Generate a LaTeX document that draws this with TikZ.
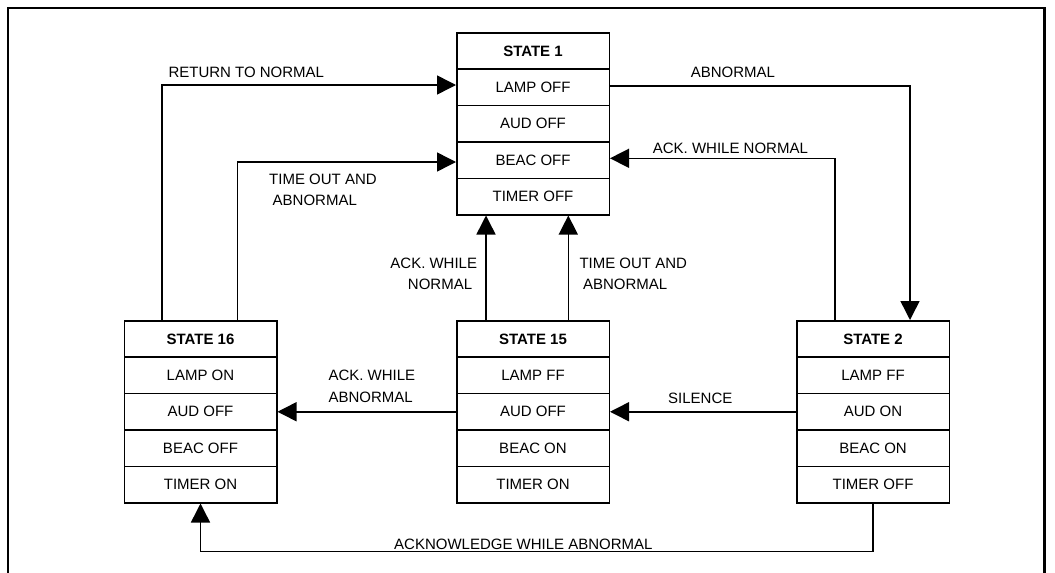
\documentclass[tikz,border=0pt]{standalone}
\usepackage{fontspec}
\setmainfont{Liberation Sans}
\usetikzlibrary{arrows.meta}
\tikzset{
  row/.style={draw, line width=1.5pt, minimum width=152.5pt, minimum height=36.4pt,
    inner sep=0pt, anchor=north west, font=\fontsize{15}{18}\selectfont},
  titlerow/.style={row, font=\fontsize{15}{18}\selectfont\bfseries},
  conn/.style={line width=1.5pt, -{Triangle[width=19pt,length=19pt]}},
  lbl/.style={font=\fontsize{15}{21.5}\selectfont, inner sep=0pt},
  frameline/.style={line width=2.5pt}
}
\newcommand\mystatebox[8]{%
  \node[titlerow] (#1-0) at (#2,#3) {#4};
  \node[row] (#1-1) at (#2,#3+36.4) {#5};
  \node[row] (#1-2) at (#2,#3+72.8) {#6};
  \node[row] (#1-3) at (#2,#3+109.2) {#7};
  \node[row] (#1-4) at (#2,#3+145.6) {#8};
}
\begin{document}
\begin{tikzpicture}[x=1pt,y=-1pt]
\useasboundingbox (0,0) rectangle (1055,573);
% frame
\draw[frameline] (7.8,573) -- (7.8,8) -- (1044.5,8) -- (1044.5,573);

% states
\mystatebox{s1}{456}{32}{STATE 1}{LAMP OFF}{AUD OFF}{BEAC OFF}{TIMER OFF}
\mystatebox{s16}{123.5}{320}{STATE 16}{LAMP ON}{AUD OFF}{BEAC OFF}{TIMER ON}
\mystatebox{s15}{456}{320}{STATE 15}{LAMP FF}{AUD OFF}{BEAC ON}{TIMER ON}
\mystatebox{s2}{796}{320}{STATE 2}{LAMP FF}{AUD ON}{BEAC ON}{TIMER OFF}

% corner coordinates
\coordinate (rtn) at (161.8,85);
\coordinate (tol) at (237.7,162);
\coordinate (abn) at (910,86);
\coordinate (awn) at (835,158.3);
\coordinate (u1) at (486,0);
\coordinate (u2) at (568.3,0);
\coordinate (bot) at (0,551.7);

% connectors
\draw[conn] (s16-0.north -| rtn) -- (rtn) -- (rtn -| s1-1.west);
\draw[conn] (s16-0.north -| tol) -- (tol) -- (tol -| s1-3.west);
\draw[conn] (abn -| s1-1.east) -- (abn) -- (abn |- s2-0.north);
\draw[conn] (s2-0.north -| awn) -- (awn) -- (awn -| s1-3.east);
\draw[conn] (s15-0.north -| u1) -- (s1-4.south -| u1);
\draw[conn] (s15-0.north -| u2) -- (s1-4.south -| u2);
\draw[conn] (s2-2.west) -- (s15-2.east);
\draw[conn] (s15-2.west) -- (s16-2.east);
\draw[conn] (s2-4.south) -- (s2-4.south |- bot) -- (s16-4.south |- bot) -- (s16-4.south);

% labels
\node[lbl, anchor=west] (lrtn) at (168.3,72) {RETURN TO NORMAL};
\node[lbl, anchor=west] (labn) at (690.7,72.5) {ABNORMAL};
\node[lbl, anchor=west] (lawn) at (652.7,148.3) {ACK. WHILE NORMAL};
\node[lbl, anchor=west, align=left] (ltol) at (269,189.8) {TIME OUT AND\\\hspace*{3.5pt}ABNORMAL};
\node[lbl, anchor=east, align=right] (lu1) at (477.3,274) {ACK. WHILE\\NORMAL\hspace*{5pt}};
\node[lbl, anchor=west, align=left] (lu2) at (579.3,274) {TIME OUT AND\\\hspace*{3.5pt}ABNORMAL};
\node[lbl, anchor=west, align=left] (lawa) at (328.3,386.3) {ACK. WHILE\\ABNORMAL};
\node[lbl, anchor=west] (lsil) at (668,398) {SILENCE};
\node[lbl, anchor=west] (lbot) at (394,544) {ACKNOWLEDGE WHILE ABNORMAL};
\end{tikzpicture}
\end{document}
